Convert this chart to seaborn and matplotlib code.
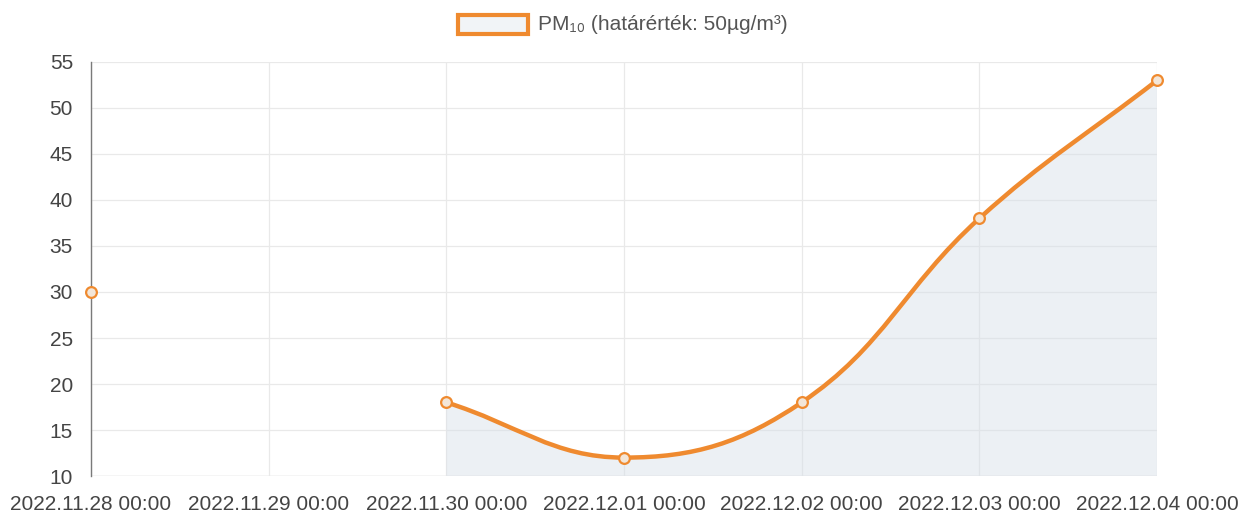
import numpy as np
import matplotlib
matplotlib.use('Agg')
import matplotlib.pyplot as plt
import seaborn as sns
from matplotlib.path import Path
from matplotlib.patches import PathPatch, Rectangle

# Style
sns.set_style("white")
plt.rcParams['font.family'] = ['Liberation Sans', 'DejaVu Sans']

dates = ['2022.11.28 00:00', '2022.11.29 00:00', '2022.11.30 00:00',
         '2022.12.01 00:00', '2022.12.02 00:00', '2022.12.03 00:00',
         '2022.12.04 00:00']
pm10 = [30, np.nan, 18, 12, 18, 38, 53]
y_ticks = [10, 15, 20, 25, 30, 35, 40, 45, 50, 55]
legend_label = 'PM₁₀ (határérték: 50µg/m³)'

LINE = '#EF8A2F'
FILL = '#D6DEE7'


def spline_path(xs, ys, sx, sy, tension=0.4):
    """Bezier path through the points, same idea as a chart.js tension curve."""
    px = np.asarray(xs, float) * sx
    py = np.asarray(ys, float) * sy
    n = len(px)
    c_in, c_out = [], []
    for i in range(n):
        p0 = (px[max(i - 1, 0)], py[max(i - 1, 0)])
        p2 = (px[min(i + 1, n - 1)], py[min(i + 1, n - 1)])
        d01 = np.hypot(px[i] - p0[0], py[i] - p0[1])
        d12 = np.hypot(p2[0] - px[i], p2[1] - py[i])
        tot = d01 + d12
        s01 = d01 / tot if tot else 0
        s12 = d12 / tot if tot else 0
        fa, fb = tension * s01, tension * s12
        dx, dy = p2[0] - p0[0], p2[1] - p0[1]
        c_in.append((px[i] - fa * dx, py[i] - fa * dy))
        c_out.append((px[i] + fb * dx, py[i] + fb * dy))
    verts = [(px[0], py[0])]
    codes = [Path.MOVETO]
    for i in range(n - 1):
        verts += [c_out[i], c_in[i + 1], (px[i + 1], py[i + 1])]
        codes += [Path.CURVE4] * 3
    verts = [(x / sx, y / sy) for x, y in verts]
    return verts, codes


fig = plt.figure(figsize=(12.41, 5.19), dpi=100)
ax = fig.add_axes([91 / 1241, 1 - 476 / 519, (1157 - 91) / 1241, (476 - 62) / 519])

x = np.arange(len(dates))
ax.set_xlim(0, len(dates) - 1)
ax.set_ylim(10, 55)

# pixel scales so the curve tension matches what is on screen
sx, sy = 1066 / 6, 414 / 45

# connected segment after the gap
seg = [i for i in range(2, len(pm10))]
verts, codes = spline_path(x[seg], [pm10[i] for i in seg], sx, sy)

fill_verts = verts + [(x[seg[-1]], 10), (x[seg[0]], 10), verts[0]]
fill_codes = codes + [Path.LINETO, Path.LINETO, Path.CLOSEPOLY]
ax.add_patch(PathPatch(Path(fill_verts, fill_codes), facecolor=FILL,
                       alpha=0.45, edgecolor='none', zorder=1))
ax.add_patch(PathPatch(Path(verts, codes), facecolor='none', edgecolor=LINE,
                       lw=3.2, capstyle='round', joinstyle='round', zorder=3))

sns.scatterplot(x=x, y=pm10, ax=ax, s=60, color='#F3E6D8',
                edgecolor=LINE, linewidth=1.6, zorder=4, clip_on=False)

# grid and axes
ax.set_yticks(y_ticks)
ax.set_xticks(x)
ax.set_xticklabels(dates)
ax.grid(True, color='#E9E9E9', lw=0.9, zorder=0)
ax.set_axisbelow(True)
for s in ['top', 'right', 'bottom']:
    ax.spines[s].set_visible(False)
ax.spines['left'].set_color('#7A7A7A')
ax.spines['left'].set_linewidth(1.0)
ax.tick_params(axis='y', length=0, pad=13, labelsize=15, labelcolor='#444444')
ax.tick_params(axis='x', length=9, color='#E6E6E6', pad=5, labelsize=15,
               labelcolor='#444444')
ax.axhline(10, color='#DADADA', lw=1.0, zorder=0)

# legend box like the original
fig.patches.append(Rectangle((458 / 1241, 1 - 34 / 519), 70 / 1241, 19 / 519,
                             transform=fig.transFigure, facecolor='#F1F4F7',
                             edgecolor=LINE, lw=3, figure=fig))
fig.text(538 / 1241, 1 - 24 / 519, legend_label, fontsize=15, color='#555555',
         ha='left', va='center')

fig.savefig('out.png', dpi=100)
